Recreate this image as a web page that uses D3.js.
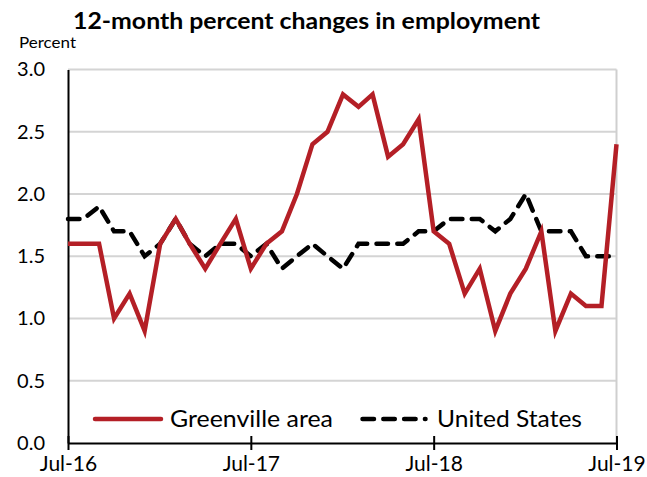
<!DOCTYPE html>
<html>
<head>
<meta charset="utf-8">
<script src="https://cdn.jsdelivr.net/npm/d3@7"></script>
<style>
  html, body { margin: 0; padding: 0; background: #fff; }
  svg { display: block; }
  text { font-family: Lato, "Open Sans", sans-serif; fill: #000; }
</style>
</head>
<body>
<svg id="chart" width="647" height="477"></svg>
<script>
// Monthly observations, Jul 2016 through Jul 2019
const months = [
  "2016-07","2016-08","2016-09","2016-10","2016-11","2016-12",
  "2017-01","2017-02","2017-03","2017-04","2017-05","2017-06",
  "2017-07","2017-08","2017-09","2017-10","2017-11","2017-12",
  "2018-01","2018-02","2018-03","2018-04","2018-05","2018-06",
  "2018-07","2018-08","2018-09","2018-10","2018-11","2018-12",
  "2019-01","2019-02","2019-03","2019-04","2019-05","2019-06",
  "2019-07"
];
const greenville = [
  1.6, 1.6, 1.6, 1.0, 1.2, 0.9,
  1.6, 1.8, 1.6, 1.4, 1.6, 1.8,
  1.4, 1.6, 1.7, 2.0, 2.4, 2.5,
  2.8, 2.7, 2.8, 2.3, 2.4, 2.6,
  1.7, 1.6, 1.2, 1.4, 0.9, 1.2,
  1.4, 1.7, 0.9, 1.2, 1.1, 1.1,
  2.4
];
const unitedStates = [
  1.8, 1.8, 1.9, 1.7, 1.7, 1.5,
  1.6, 1.8, 1.6, 1.5, 1.6, 1.6,
  1.5, 1.6, 1.4, 1.5, 1.6, 1.5,
  1.4, 1.6, 1.6, 1.6, 1.6, 1.7,
  1.7, 1.8, 1.8, 1.8, 1.7, 1.8,
  2.0, 1.7, 1.7, 1.7, 1.5, 1.5,
  1.5
];
const yTicks = [0, 0.5, 1.0, 1.5, 2.0, 2.5, 3.0];
const xTickMonths = ["2016-07", "2017-07", "2018-07", "2019-07"];
const seriesNames = ["Greenville area", "United States"];

const parse = d3.timeParse("%Y-%m");
const dates = months.map(parse);

const svg = d3.select("#chart");
const plot = { left: 68, right: 616.5, top: 69.5, bottom: 443 };
const red = "#b41f26";
const dash = "11.5,9.3";

const x = d3.scaleTime()
  .domain(d3.extent(dates))
  .range([plot.left, plot.right]);
const y = d3.scaleLinear()
  .domain([0, 3])
  .range([plot.bottom, plot.top]);

// Title and unit label
svg.append("text")
  .attr("x", 73).attr("y", 29)
  .attr("textLength", 467).attr("lengthAdjust", "spacingAndGlyphs")
  .style("font-size", "23px").style("font-weight", "bold")
  .text("12-month percent changes in employment");
svg.append("text")
  .attr("x", 19).attr("y", 48)
  .attr("textLength", 57).attr("lengthAdjust", "spacingAndGlyphs")
  .style("font-size", "15px")
  .text("Percent");

// Horizontal gridlines
svg.append("g")
  .selectAll("line")
  .data(yTicks.filter(v => v > 0))
  .join("line")
  .attr("x1", plot.left).attr("x2", plot.right)
  .attr("y1", d => y(d)).attr("y2", d => y(d))
  .attr("stroke", "#d4d4d4").attr("stroke-width", 2);

// Right border of the plot area
svg.append("line")
  .attr("x1", plot.right).attr("x2", plot.right)
  .attr("y1", plot.top).attr("y2", plot.bottom)
  .attr("stroke", "#cfcfcf").attr("stroke-width", 2);

// Y axis
const yAxis = svg.append("g")
  .attr("transform", `translate(${plot.left},0)`)
  .call(d3.axisLeft(y).tickValues(yTicks).tickFormat(d3.format(".1f")).tickSize(0).tickPadding(23));
yAxis.select(".domain").attr("stroke", "#000").attr("stroke-width", 2);
yAxis.selectAll("text").style("font-size", "20px").style("font-family", "Lato, sans-serif");

// X axis with ticks crossing the baseline
const xAxis = svg.append("g")
  .attr("transform", `translate(0,${plot.bottom})`)
  .call(d3.axisBottom(x)
    .tickValues(xTickMonths.map(parse))
    .tickFormat(d3.timeFormat("%b-%y"))
    .tickSize(7).tickPadding(6).tickSizeOuter(0));
xAxis.select(".domain").attr("stroke", "#000").attr("stroke-width", 2);
xAxis.selectAll(".tick line").attr("stroke", "#000").attr("stroke-width", 2).attr("y1", -7);
xAxis.selectAll("text").style("font-size", "21px").style("font-family", "Lato, sans-serif");

// Series lines
const line = d3.line()
  .x((d, i) => x(dates[i]))
  .y(d => y(d));

svg.append("path")
  .datum(unitedStates)
  .attr("d", line)
  .attr("fill", "none")
  .attr("stroke", "#000")
  .attr("stroke-width", 4.5)
  .attr("stroke-linecap", "round")
  .attr("stroke-dasharray", dash);

svg.append("path")
  .datum(greenville)
  .attr("d", line)
  .attr("fill", "none")
  .attr("stroke", red)
  .attr("stroke-width", 4.5)
  .attr("stroke-linejoin", "miter");

// Legend
const legend = svg.append("g");
legend.append("line")
  .attr("x1", 95).attr("x2", 161).attr("y1", 419).attr("y2", 419)
  .attr("stroke", red).attr("stroke-width", 4.5).attr("stroke-linecap", "round");
legend.append("text")
  .attr("x", 170).attr("y", 426.5)
  .attr("textLength", 163).attr("lengthAdjust", "spacingAndGlyphs")
  .style("font-size", "23px")
  .text(seriesNames[0]);
legend.append("line")
  .attr("x1", 362.5).attr("x2", 425.5).attr("y1", 419).attr("y2", 419)
  .attr("stroke", "#000").attr("stroke-width", 4.5).attr("stroke-linecap", "round")
  .attr("stroke-dasharray", dash);
legend.append("text")
  .attr("x", 437).attr("y", 426.5)
  .attr("textLength", 145).attr("lengthAdjust", "spacingAndGlyphs")
  .style("font-size", "23px")
  .text(seriesNames[1]);
</script>
</body>
</html>
